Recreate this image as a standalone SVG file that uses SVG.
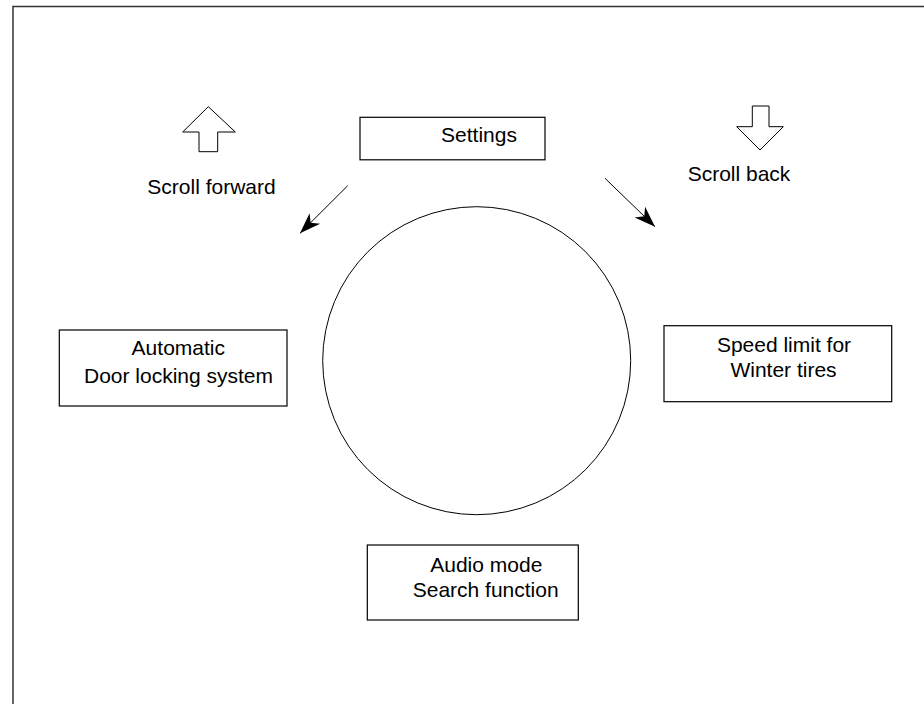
<svg xmlns="http://www.w3.org/2000/svg" width="924" height="704" viewBox="0 0 924 704">
<style>
.box{fill:#fff;stroke:#000;stroke-width:1.2}
.t{font-family:"Liberation Sans",Arial,sans-serif;font-size:21px;fill:#000;text-anchor:middle}
.ln{stroke:#000;stroke-width:1;fill:none}
.sym{fill:#fff;stroke:#000;stroke-width:1}
</style>
<defs>
<marker id="ah" markerUnits="userSpaceOnUse" markerWidth="24" markerHeight="18" viewBox="-22 -9 24 18" refX="0" refY="0" orient="auto">
<path d="M0,0 L-21,-7.5 L-15,0 L-21,7.5 Z" fill="#000"/>
</marker>
</defs>
<rect width="924" height="704" fill="#fff"/>
<g id="frame">
<path d="M13,704 V6.5 H924" fill="none" stroke="#333" stroke-width="1.5"/>
</g>
<g id="scroll-forward">
<path class="sym" d="M208.3,106.7 L235.3,132 L217.7,132 L217.7,151.7 L199,151.7 L199,132 L182.7,132 Z"/>
<text class="t" x="211.5" y="194">Scroll forward</text>
</g>
<g id="scroll-back">
<path class="sym" d="M752.3,106 L769,106 L769,126.7 L783.3,126.7 L760,150 L736.7,126.7 L752.3,126.7 Z"/>
<text class="t" x="739" y="180.7">Scroll back</text>
</g>
<g id="settings">
<rect class="box" x="360" y="117.3" width="185" height="42.5"/>
<text class="t" x="479" y="141.7">Settings</text>
</g>
<g id="wheel">
<circle cx="476.7" cy="360.7" r="154" fill="none" stroke="#000" stroke-width="1"/>
</g>
<g id="door-locking">
<rect class="box" x="59.3" y="330" width="227.7" height="76"/>
<text class="t" x="178.3" y="355">Automatic</text>
<text class="t" x="178.5" y="383">Door locking system</text>
</g>
<g id="speed-limit">
<rect class="box" x="664" y="325.7" width="227.7" height="76"/>
<text class="t" x="784" y="351.7">Speed limit for</text>
<text class="t" x="783.5" y="376.7">Winter tires</text>
</g>
<g id="audio">
<rect class="box" x="367.3" y="545" width="211" height="75"/>
<text class="t" x="486.3" y="571.7">Audio mode</text>
<text class="t" x="485.7" y="596.7">Search function</text>
</g>
<g id="connectors">
<line class="ln" x1="347.7" y1="185.7" x2="300" y2="233.3" marker-end="url(#ah)"/>
<line class="ln" x1="605" y1="178.3" x2="655" y2="226.7" marker-end="url(#ah)"/>
</g>
</svg>
